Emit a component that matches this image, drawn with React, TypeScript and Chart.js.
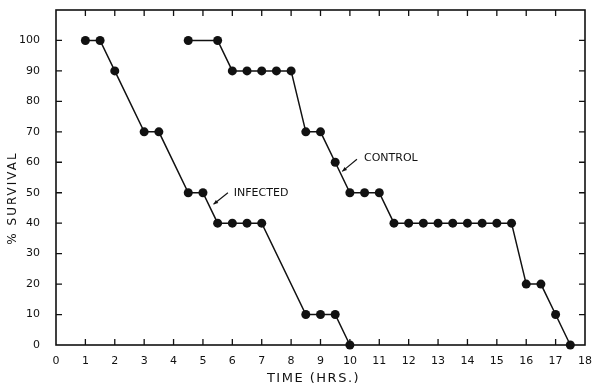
import React, { useEffect, useRef } from "react";
import { Chart, registerables } from "chart.js";

Chart.register(...registerables);

// ---- data ----
const infectedHours = [1, 1.5, 2, 3, 3.5, 4.5, 5, 5.5, 6, 6.5, 7, 8.5, 9, 9.5, 10];
const infectedSurvival = [100, 100, 90, 70, 70, 50, 50, 40, 40, 40, 40, 10, 10, 10, 0];

const controlHours = [
  4.5, 5.5, 6, 6.5, 7, 7.5, 8, 8.5, 9, 9.5, 10, 10.5, 11, 11.5, 12, 12.5, 13, 13.5, 14,
  14.5, 15, 15.5, 16, 16.5, 17, 17.5,
];
const controlSurvival = [
  100, 100, 90, 90, 90, 90, 90, 70, 70, 60, 50, 50, 50, 40, 40, 40, 40, 40, 40, 40, 40,
  40, 20, 20, 10, 0,
];

const xTickValues = [0, 1, 2, 3, 4, 5, 6, 7, 8, 9, 10, 11, 12, 13, 14, 15, 16, 17, 18];
const yTickValues = [0, 10, 20, 30, 40, 50, 60, 70, 80, 90, 100];

const xTitle = "TIME (HRS.)";
const yTitle = "% SURVIVAL";

// annotation labels (data units)
const annotationTexts = ["INFECTED", "CONTROL"];
const annotationTextAt = [
  [6.05, 50],
  [10.48, 61.5],
];
const annotationArrowFrom = [
  [5.85, 50],
  [10.24, 61],
];
const annotationArrowTo = [
  [5.36, 46.2],
  [9.74, 57],
];

const INK = "#111111";
const FONT = "'DejaVu Sans', sans-serif";

const framePlugin = {
  id: "frame",
  beforeDatasetsDraw(chart: any) {
    const { ctx, chartArea, scales } = chart;
    const { left, right, top, bottom } = chartArea;
    const xs = scales.x;
    const ys = scales.y;
    ctx.save();
    ctx.strokeStyle = INK;
    ctx.lineWidth = 1.6;
    ctx.strokeRect(left, top, right - left, bottom - top);
    ctx.lineWidth = 1.3;
    const tl = 6;
    ctx.beginPath();
    for (const v of xTickValues) {
      const px = xs.getPixelForValue(v);
      if (v === 0 || v === 18) continue;
      ctx.moveTo(px, bottom);
      ctx.lineTo(px, bottom - tl);
      ctx.moveTo(px, top);
      ctx.lineTo(px, top + tl);
    }
    for (const v of yTickValues) {
      if (v === 0) continue;
      const py = ys.getPixelForValue(v);
      ctx.moveTo(left, py);
      ctx.lineTo(left + tl, py);
      ctx.moveTo(right, py);
      ctx.lineTo(right - tl, py);
    }
    ctx.stroke();
    ctx.restore();
  },
  afterDraw(chart: any) {
    const { ctx, chartArea, scales } = chart;
    const xs = scales.x;
    const ys = scales.y;
    ctx.save();
    ctx.fillStyle = INK;
    ctx.strokeStyle = INK;
    (ctx as any).letterSpacing = "1.5px";
    ctx.font = `13px ${FONT}`;
    ctx.textAlign = "center";
    ctx.textBaseline = "middle";
    ctx.fillText(xTitle, (chartArea.left + chartArea.right) / 2 - 7, 379);
    ctx.save();
    ctx.translate(13, 198);
    ctx.rotate(-Math.PI / 2);
    ctx.font = `12px ${FONT}`;
    (ctx as any).letterSpacing = "2px";
    ctx.fillText(yTitle, 0, 0);
    ctx.restore();
    (ctx as any).letterSpacing = "0px";
    ctx.font = `11px ${FONT}`;
    ctx.textAlign = "left";
    ctx.textBaseline = "middle";
    annotationTexts.forEach((t, i) => {
      const tx = xs.getPixelForValue(annotationTextAt[i][0]);
      const ty = ys.getPixelForValue(annotationTextAt[i][1]);
      ctx.fillText(t, tx, ty);
      const fx = xs.getPixelForValue(annotationArrowFrom[i][0]);
      const fy = ys.getPixelForValue(annotationArrowFrom[i][1]);
      const ax = xs.getPixelForValue(annotationArrowTo[i][0]);
      const ay = ys.getPixelForValue(annotationArrowTo[i][1]);
      ctx.lineWidth = 1.1;
      ctx.beginPath();
      ctx.moveTo(fx, fy);
      ctx.lineTo(ax, ay);
      ctx.stroke();
      const ang = Math.atan2(ay - fy, ax - fx);
      const hl = 5;
      ctx.beginPath();
      ctx.moveTo(ax, ay);
      ctx.lineTo(ax - hl * Math.cos(ang - 0.4), ay - hl * Math.sin(ang - 0.4));
      ctx.lineTo(ax - hl * Math.cos(ang + 0.4), ay - hl * Math.sin(ang + 0.4));
      ctx.closePath();
      ctx.fill();
    });
    ctx.restore();
  },
};

export default function App() {
  const ref = useRef<HTMLCanvasElement | null>(null);
  useEffect(() => {
    if (!ref.current) return;
    const ds = (xsArr: number[], ysArr: number[], label: string) => ({
      label,
      data: xsArr.map((x, i) => ({ x, y: ysArr[i] })),
      showLine: true,
      borderColor: INK,
      backgroundColor: INK,
      borderWidth: 1.5,
      pointRadius: 4.5,
      pointBorderWidth: 0,
      pointBackgroundColor: INK,
      tension: 0,
      clip: false as any,
    });
    const chart = new Chart(ref.current, {
      type: "scatter",
      data: {
        datasets: [
          ds(infectedHours, infectedSurvival, "INFECTED"),
          ds(controlHours, controlSurvival, "CONTROL"),
        ],
      },
      options: {
        animation: false,
        responsive: false,
        devicePixelRatio: 1,
        layout: { padding: { top: 10, right: 7, left: 0, bottom: 0 } },
        plugins: { legend: { display: false }, tooltip: { enabled: false } },
        scales: {
          x: {
            type: "linear",
            min: 0,
            max: 18,
            afterBuildTicks: (s: any) => {
              s.ticks = xTickValues.map((v) => ({ value: v }));
            },
            ticks: { color: INK, font: { family: FONT, size: 11 }, padding: 2, maxRotation: 0, autoSkip: false },
            grid: { display: false },
            border: { display: false },
            afterFit: (s: any) => {
              s.height = 42;
              s.paddingLeft = 0;
              s.paddingRight = 0;
            },
          },
          y: {
            type: "linear",
            min: 0,
            max: 110,
            afterBuildTicks: (s: any) => {
              s.ticks = yTickValues.map((v) => ({ value: v }));
            },
            ticks: { color: INK, font: { family: FONT, size: 11 }, padding: 8, autoSkip: false },
            grid: { display: false },
            border: { display: false },
            afterFit: (s: any) => {
              s.width = 56;
              s.paddingTop = 0;
              s.paddingBottom = 0;
            },
          },
        },
      },
      plugins: [framePlugin],
    });
    return () => chart.destroy();
  }, []);
  return (
    <div style={{ position: "fixed", left: 0, top: 0, width: 592, height: 387, background: "#fff" }}>
      <canvas ref={ref} width={592} height={387} />
    </div>
  );
}
